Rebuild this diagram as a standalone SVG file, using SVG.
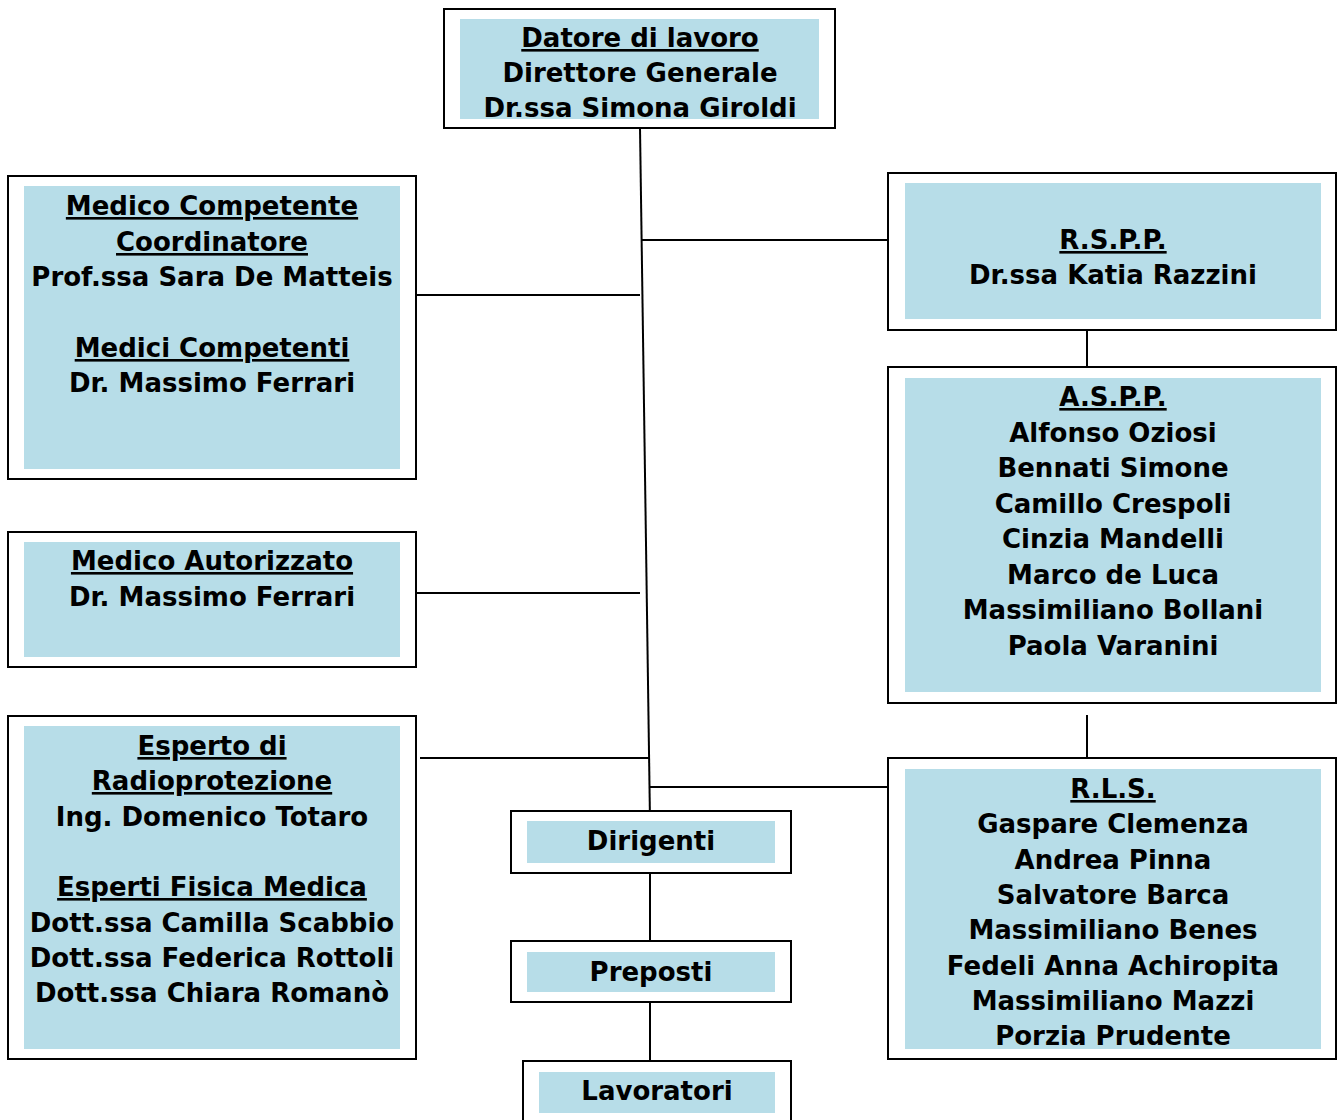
<svg xmlns="http://www.w3.org/2000/svg" width="1338" height="1120" viewBox="0 0 1338 1120">
<style>
.outer{fill:#fff;stroke:#000;stroke-width:2}
.inner{fill:#b7dde8;stroke:none}
.t{font-family:"DejaVu Sans","Verdana",sans-serif;font-weight:bold;font-size:26px;fill:#000;text-anchor:middle}
.u{text-decoration:underline}
.c{stroke:#000;stroke-width:2;fill:none}
</style>
<rect width="1338" height="1120" fill="#fff"/>
<g id="connectors">
<line class="c" x1="640" y1="128" x2="650" y2="821"/>
<line class="c" x1="641" y1="240" x2="888" y2="240"/>
<line class="c" x1="416" y1="295" x2="640" y2="295"/>
<line class="c" x1="412" y1="593" x2="640" y2="593"/>
<line class="c" x1="420" y1="758" x2="649" y2="758"/>
<line class="c" x1="649" y1="787" x2="888" y2="787"/>
<line class="c" x1="1087" y1="331" x2="1087" y2="367"/>
<line class="c" x1="1087" y1="715" x2="1087" y2="758"/>
<line class="c" x1="650" y1="873" x2="650" y2="941"/>
<line class="c" x1="650" y1="1002" x2="650" y2="1061"/>
</g>
<g id="datore">
<rect class="outer" x="444" y="9" width="391" height="119"/>
<rect class="inner" x="460" y="19" width="359" height="100"/>
<text class="t u" x="640" y="47">Datore di lavoro</text>
<text class="t" x="640" y="82">Direttore Generale</text>
<text class="t" x="640" y="117">Dr.ssa Simona Giroldi</text>
</g>
<g id="medico-competente">
<rect class="outer" x="8" y="176" width="408" height="303"/>
<rect class="inner" x="24" y="186" width="376" height="283"/>
<text class="t u" x="212" y="215">Medico Competente</text>
<text class="t u" x="212" y="251">Coordinatore</text>
<text class="t" x="212" y="286">Prof.ssa Sara De Matteis</text>
<text class="t u" x="212" y="357">Medici Competenti</text>
<text class="t" x="212" y="392">Dr. Massimo Ferrari</text>
</g>
<g id="medico-autorizzato">
<rect class="outer" x="8" y="532" width="408" height="135"/>
<rect class="inner" x="24" y="542" width="376" height="115"/>
<text class="t u" x="212" y="570">Medico Autorizzato</text>
<text class="t" x="212" y="606">Dr. Massimo Ferrari</text>
</g>
<g id="esperto">
<rect class="outer" x="8" y="716" width="408" height="343"/>
<rect class="inner" x="24" y="726" width="376" height="323"/>
<text class="t u" x="212" y="755">Esperto di</text>
<text class="t u" x="212" y="790">Radioprotezione</text>
<text class="t" x="212" y="826">Ing. Domenico Totaro</text>
<text class="t u" x="212" y="896">Esperti Fisica Medica</text>
<text class="t" x="212" y="932">Dott.ssa Camilla Scabbio</text>
<text class="t" x="212" y="967">Dott.ssa Federica Rottoli</text>
<text class="t" x="212" y="1002">Dott.ssa Chiara Romanò</text>
</g>
<g id="rspp">
<rect class="outer" x="888" y="173" width="448" height="157"/>
<rect class="inner" x="905" y="183" width="416" height="136"/>
<text class="t u" x="1113" y="249">R.S.P.P.</text>
<text class="t" x="1113" y="284">Dr.ssa Katia Razzini</text>
</g>
<g id="aspp">
<rect class="outer" x="888" y="367" width="448" height="336"/>
<rect class="inner" x="905" y="378" width="416" height="314"/>
<text class="t u" x="1113" y="406">A.S.P.P.</text>
<text class="t" x="1113" y="442">Alfonso Oziosi</text>
<text class="t" x="1113" y="477">Bennati Simone</text>
<text class="t" x="1113" y="513">Camillo Crespoli</text>
<text class="t" x="1113" y="548">Cinzia Mandelli</text>
<text class="t" x="1113" y="584">Marco de Luca</text>
<text class="t" x="1113" y="619">Massimiliano Bollani</text>
<text class="t" x="1113" y="655">Paola Varanini</text>
</g>
<g id="rls">
<rect class="outer" x="888" y="758" width="448" height="301"/>
<rect class="inner" x="905" y="769" width="416" height="280"/>
<text class="t u" x="1113" y="798">R.L.S.</text>
<text class="t" x="1113" y="833">Gaspare Clemenza</text>
<text class="t" x="1113" y="869">Andrea Pinna</text>
<text class="t" x="1113" y="904">Salvatore Barca</text>
<text class="t" x="1113" y="939">Massimiliano Benes</text>
<text class="t" x="1113" y="975">Fedeli Anna Achiropita</text>
<text class="t" x="1113" y="1010">Massimiliano Mazzi</text>
<text class="t" x="1113" y="1045">Porzia Prudente</text>
</g>
<g id="dirigenti">
<rect class="outer" x="511" y="811" width="280" height="62"/>
<rect class="inner" x="527" y="821" width="248" height="42"/>
<text class="t" x="651" y="850">Dirigenti</text>
</g>
<g id="preposti">
<rect class="outer" x="511" y="941" width="280" height="61"/>
<rect class="inner" x="527" y="952" width="248" height="40"/>
<text class="t" x="651" y="981">Preposti</text>
</g>
<g id="lavoratori">
<rect class="outer" x="523" y="1061" width="268" height="70"/>
<rect class="inner" x="539" y="1072" width="236" height="41"/>
<text class="t" x="657" y="1100">Lavoratori</text>
</g>
</svg>
